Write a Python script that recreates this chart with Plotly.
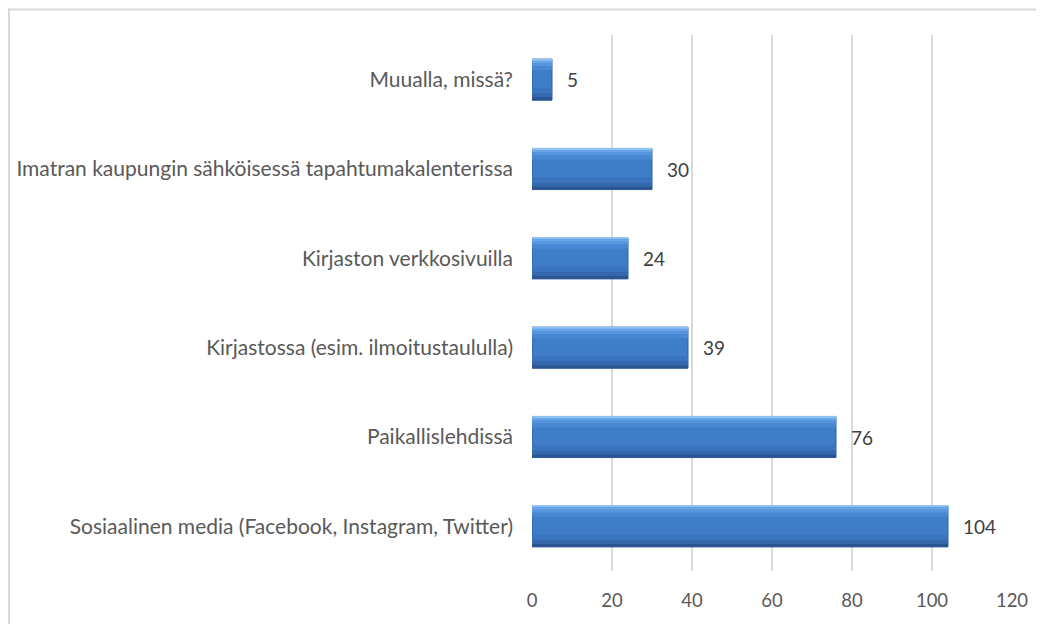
import plotly.graph_objects as go

categories = [
    "Muualla, missä?",
    "Imatran kaupungin sähköisessä tapahtumakalenterissa",
    "Kirjaston verkkosivuilla",
    "Kirjastossa (esim. ilmoitustaululla)",
    "Paikallislehdissä",
    "Sosiaalinen media (Facebook, Instagram, Twitter)",
]
values = [5, 30, 24, 39, 76, 104]
x_ticks = [0, 20, 40, 60, 80, 100, 120]

FONT = "Lato, Open Sans, sans-serif"
BAR_W = 0.46
PX = BAR_W / 41.0  # one pixel of bar thickness in category units

# bevel bands: (start px from top, thickness px, colour)
bands = [
    (0, 1.5, "#8fc2f2"),
    (1.5, 2.5, "#6aa7ea"),
    (4, 3, "#5696df"),
    (7, 4, "#4887d2"),
    (29, 5, "#3b74be"),
    (34, 4, "#3567ad"),
    (38, 3, "#2a5590"),
]

fig = go.Figure()
fig.add_trace(go.Bar(
    y=categories, x=values, orientation="h", width=BAR_W,
    marker=dict(color="#3f7dc9", line=dict(color="#2f5f9f", width=1)),
    hoverinfo="x+y", showlegend=False,
))
for start, thick, col in bands:
    fig.add_trace(go.Bar(
        y=categories, x=values, orientation="h",
        width=thick * PX, offset=-BAR_W / 2 + start * PX,
        marker=dict(color=col, line=dict(width=0)),
        hoverinfo="skip", showlegend=False,
    ))

for c, v in zip(categories, values):
    fig.add_annotation(
        x=v, y=c, text=str(v), showarrow=False, xanchor="left", xshift=13,
        font=dict(family=FONT, size=19, color="#404040"),
    )

L, T, PW, PH = 524, 27, 480, 536
W, H = 1036, 616

fig.update_layout(
    width=W, height=H,
    barmode="overlay",
    paper_bgcolor="white", plot_bgcolor="white",
    margin=dict(l=L, r=W - L - PW, t=T, b=H - T - PH, autoexpand=False),
    font=dict(family=FONT, size=16, color="#595959"),
    xaxis=dict(
        range=[0, 120], tickvals=x_ticks, showgrid=True, gridcolor="#d9d9d9",
        gridwidth=1.5, zeroline=False, showline=False, ticks="",
        ticklabelstandoff=16, tickfont=dict(size=18.5, color="#595959"),
        fixedrange=True,
    ),
    yaxis=dict(
        autorange="reversed", showgrid=False, zeroline=False, showline=False,
        ticks="", ticklabelstandoff=18, tickfont=dict(size=21, color="#595959"),
        fixedrange=True,
    ),
    shapes=[
        dict(type="line", xref="paper", yref="paper", x0=(0 - L) / PW, x1=1.2,
             y0=1 + (T - 1.5) / PH, y1=1 + (T - 1.5) / PH,
             line=dict(color="#d9d9d9", width=2)),
        dict(type="line", xref="paper", yref="paper", x0=(1 - L) / PW, x1=(1 - L) / PW,
             y0=1 + (T - 0.5) / PH, y1=-0.2, line=dict(color="#d9d9d9", width=2)),
    ],
)

fig.write_html("out.html")
